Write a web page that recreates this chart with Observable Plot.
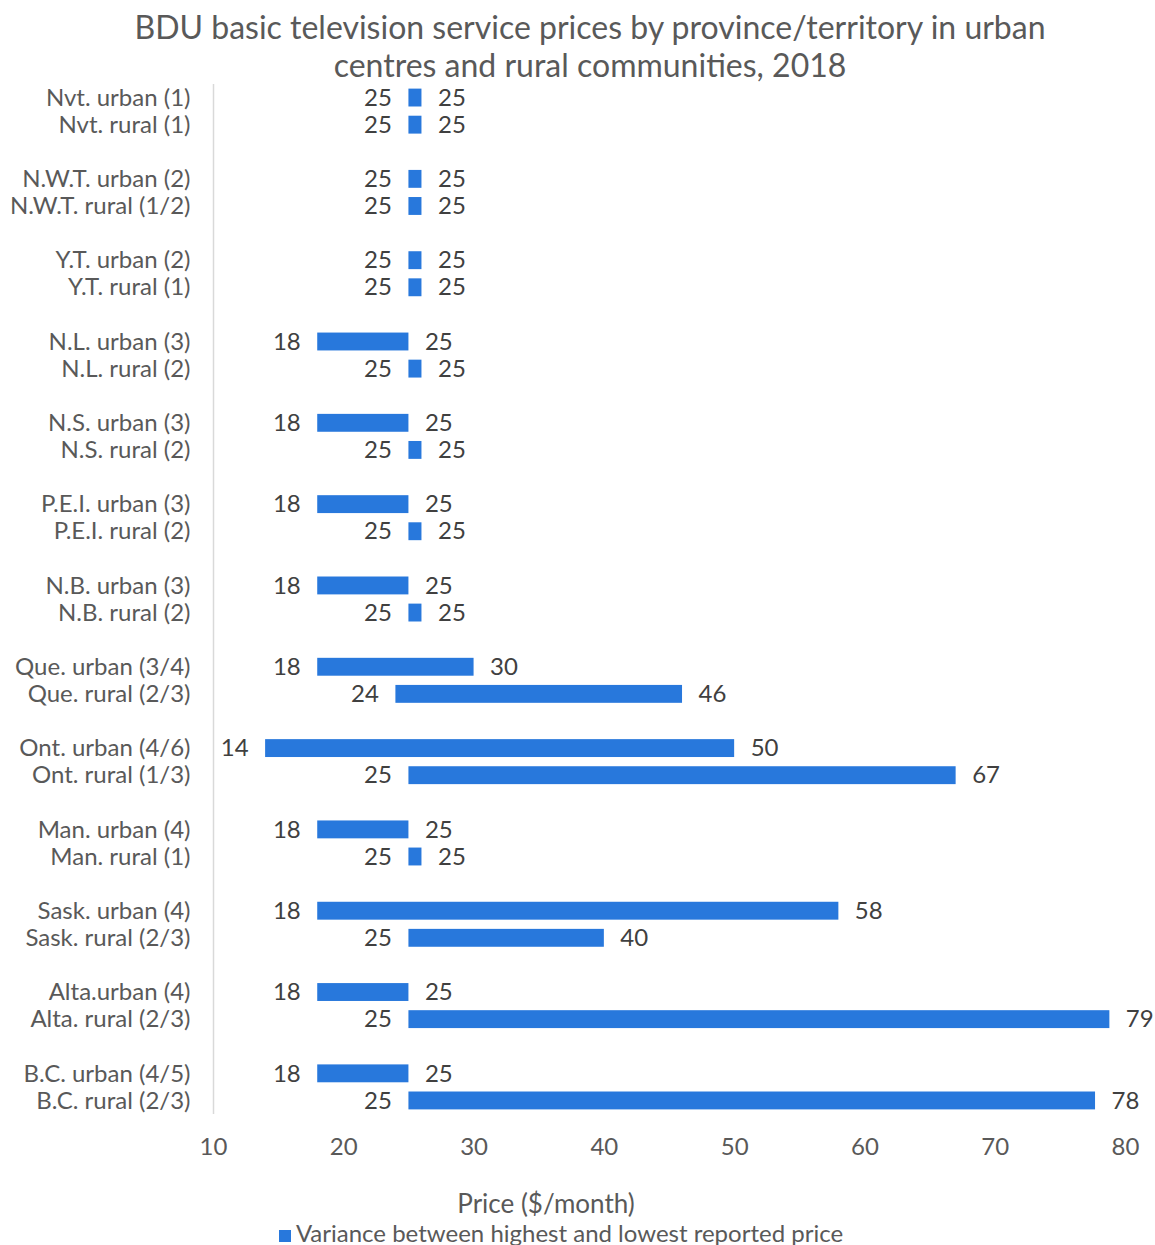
<!DOCTYPE html>
<html><head><meta charset="utf-8">
<script src="https://cdn.jsdelivr.net/npm/d3@7"></script>
<script src="https://cdn.jsdelivr.net/npm/@observablehq/plot@0.6"></script>
<style>
body{margin:0;background:#fff;font-family:Lato,sans-serif;}
#title{height:66px;padding-top:8px;line-height:38px;font-size:32px;color:#595959;text-align:center;width:1180px;overflow:visible;}
#chart svg{display:block;}
#xlabel{width:1092px;text-align:center;font-size:26px;line-height:28px;color:#595959;margin-top:19px;}
#legend{width:1122px;text-align:center;font-size:24px;line-height:28px;color:#595959;margin-top:2px;}
#legend .sw{display:inline-block;width:12px;height:12px;background:#2878dc;margin-right:5px;vertical-align:0px;}
</style></head><body>
<div id="title">BDU basic television service prices by province/territory in urban<br>centres and rural communities, 2018</div>
<div id="chart"></div>
<div id="xlabel">Price ($/month)</div>
<div id="legend"><span class="sw"></span>Variance between highest and lowest reported price</div>
<script>
const urbanLabels = ["Nvt. urban (1)", "N.W.T. urban (2)", "Y.T. urban (2)", "N.L. urban (3)", "N.S. urban (3)", "P.E.I. urban (3)", "N.B. urban (3)", "Que. urban (3/4)", "Ont. urban (4/6)", "Man. urban (4)", "Sask. urban (4)", "Alta.urban (4)", "B.C. urban (4/5)"];
const ruralLabels = ["Nvt. rural (1)", "N.W.T. rural (1/2)", "Y.T. rural (1)", "N.L. rural (2)", "N.S. rural (2)", "P.E.I. rural (2)", "N.B. rural (2)", "Que. rural (2/3)", "Ont. rural (1/3)", "Man. rural (1)", "Sask. rural (2/3)", "Alta. rural (2/3)", "B.C. rural (2/3)"];
const urbanLow  = [25, 25, 25, 18, 18, 18, 18, 18, 14, 18, 18, 18, 18];
const urbanHigh = [25, 25, 25, 25, 25, 25, 25, 30, 50, 25, 58, 25, 25];
const ruralLow  = [25, 25, 25, 25, 25, 25, 25, 24, 25, 25, 25, 25, 25];
const ruralHigh = [25, 25, 25, 25, 25, 25, 25, 46, 67, 25, 40, 78.8, 77.7];
const xTicks = [10, 20, 30, 40, 50, 60, 70, 80];

const rows = [];
const domain = [];
const realCats = [];
urbanLabels.forEach((u, i) => {
  rows.push({cat: u, low: urbanLow[i], high: urbanHigh[i]});
  rows.push({cat: ruralLabels[i], low: ruralLow[i], high: ruralHigh[i]});
  domain.push(u, ruralLabels[i]);
  realCats.push(u, ruralLabels[i]);
  if (i < urbanLabels.length - 1) domain.push("gap" + i);
});
// equal low/high prices are shown with a minimum visible width of $1
const barEnd = d => Math.max(d.high, d.low + 1);
const blue = "#2878dc";

const chart = Plot.plot({
  width: 1155, height: 1096,
  marginTop: 10, marginBottom: 56, marginLeft: 213, marginRight: 30,
  style: {fontFamily: "Lato, sans-serif", background: "#fff", overflow: "visible"},
  x: {domain: [10, 80]},
  y: {domain, paddingInner: 0.34, paddingOuter: 0.17, round: false},
  marks: [
    Plot.axisX({ticks: xTicks, tickSize: 0, tickPadding: 23, fontSize: 24, color: "#595959", label: null}),
    Plot.axisY({ticks: realCats, tickSize: 0, tickPadding: 23, fontSize: 24, color: "#595959", label: null}),
    Plot.ruleX([10], {stroke: "#d9d9d9", strokeWidth: 1.5}),
    Plot.barX(rows, {y: "cat", x1: "low", x2: barEnd, fill: blue}),
    Plot.text(rows, {y: "cat", x: "low", text: d => String(Math.round(d.low)), textAnchor: "end", dx: -17, fontSize: 24, fill: "#404040"}),
    Plot.text(rows, {y: "cat", x: barEnd, text: d => String(Math.round(d.high)), textAnchor: "start", dx: 16, fontSize: 24, fill: "#404040"})
  ]
});
document.getElementById("chart").appendChild(chart);
</script>
</body></html>
